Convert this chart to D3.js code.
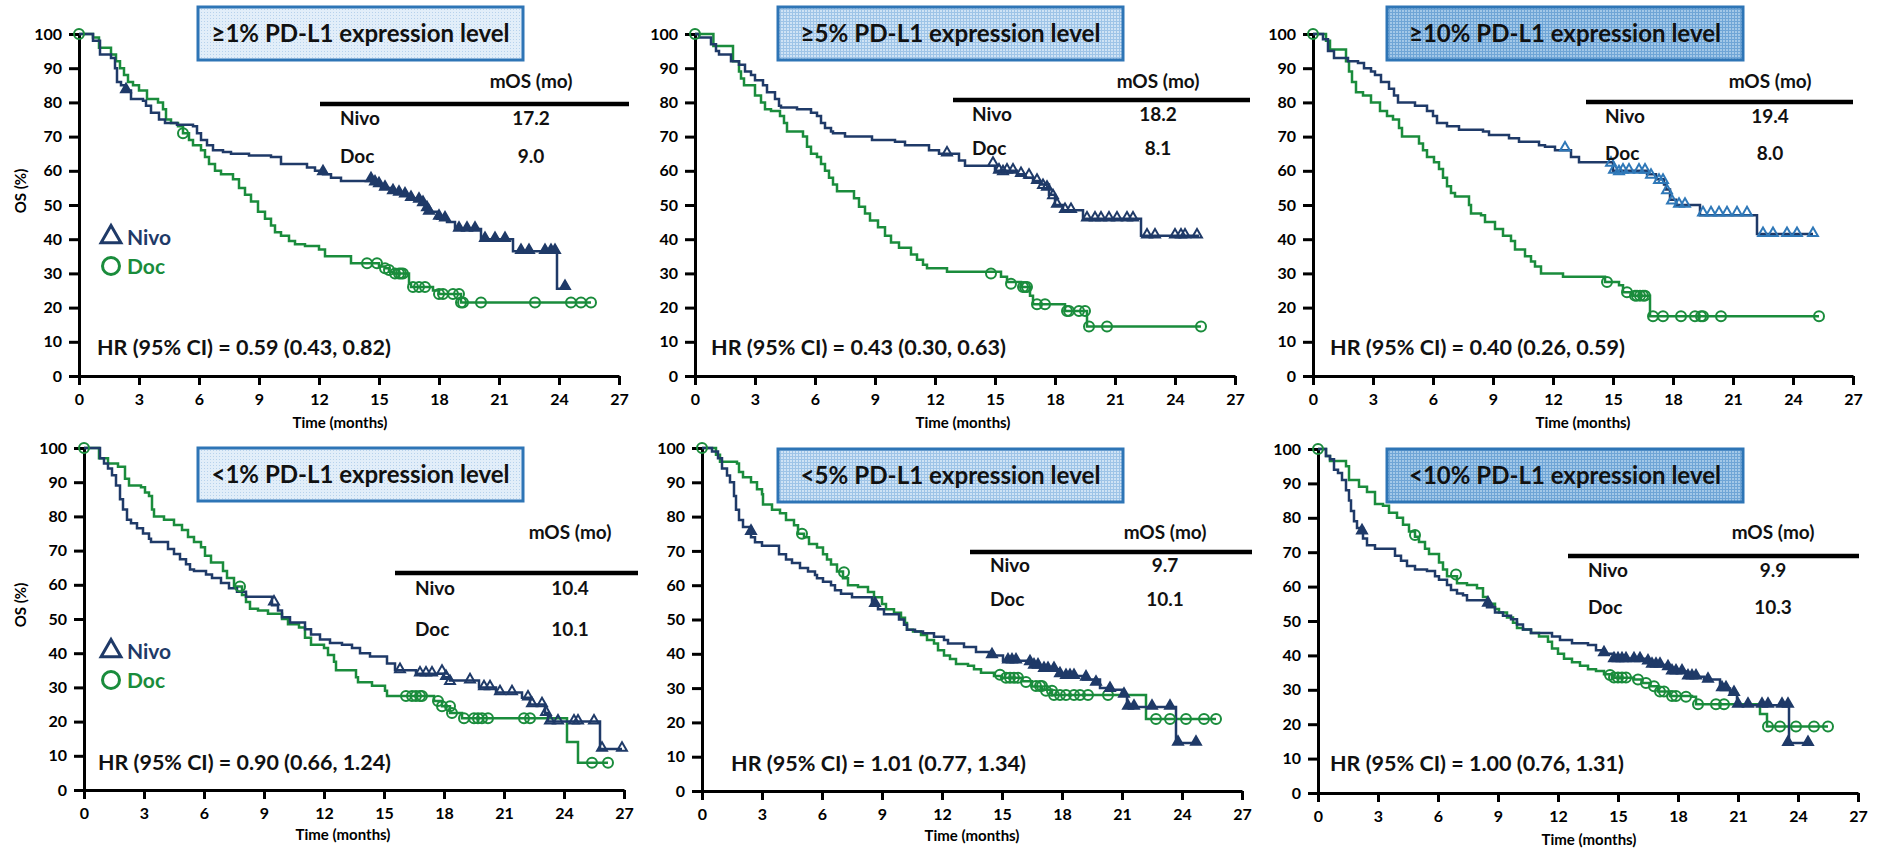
<!DOCTYPE html>
<html><head><meta charset="utf-8">
<script src="https://cdn.jsdelivr.net/npm/d3@7"></script>
<style>
body{margin:0;background:#fff}
svg{display:block}
text{font-family:Lato,"Open Sans",sans-serif;font-weight:700}
</style>
</head><body>
<svg id="chart" width="1881" height="850"></svg>
<script>
// ---------- DATA ----------
const xTicks = [0,3,6,9,12,15,18,21,24,27];
const yTicks = [0,10,20,30,40,50,60,70,80,90,100];
const panelTitles = ["≥1% PD-L1 expression level","≥5% PD-L1 expression level","≥10% PD-L1 expression level",
                     "<1% PD-L1 expression level","<5% PD-L1 expression level","<10% PD-L1 expression level"];
const hrLabels = ["HR (95% CI) = 0.59 (0.43, 0.82)","HR (95% CI) = 0.43 (0.30, 0.63)","HR (95% CI) = 0.40 (0.26, 0.59)",
                  "HR (95% CI) = 0.90 (0.66, 1.24)","HR (95% CI) = 1.01 (0.77, 1.34)","HR (95% CI) = 1.00 (0.76, 1.31)"];
const armNames = ["Nivo","Doc"];
const mosNivo = ["17.2","18.2","19.4","10.4","9.7","9.9"];
const mosDoc  = ["9.0","8.1","8.0","10.1","10.1","10.3"];

// Panel 1: >=1%
const nivo1 = [[0,100],[0.7,98],[1.05,94],[1.6,93],[1.8,90],[1.9,86],[2.1,85],[2.3,83.5],[2.6,81],[3.2,80.5],[3.35,79],[3.6,77],[4.0,75],[4.3,74],[4.9,73.5],[5.7,73],[5.9,71],[6.1,69],[6.4,67.5],[6.7,66],[7.2,65.5],[7.6,65],[8.5,64.5],[9.6,64],[10.1,62],[11.4,61],[11.8,60],[12.2,59],[12.6,58],[13.1,57],[14.7,56.5],[14.9,56],[15.1,55],[15.6,54],[15.9,53.5],[16.2,53],[16.5,52],[16.9,51.5],[17.1,50.5],[17.3,49],[17.5,48],[17.9,46],[18.4,45],[18.8,43],[20.1,40],[21.7,36.5],[23.9,25.5],[24.3,25.5]];
const nivo1Censor = [[2.35,83.5],[12.2,59.5],[14.6,57.5],[14.8,56.5],[15.0,56],[15.3,55],[15.7,54],[16.0,53.5],[16.3,53],[16.6,52],[17.0,51.5],[17.2,50.5],[17.4,49],[17.5,48],[18.0,46.5],[18.3,46],[19.0,43],[19.4,43],[19.8,43],[20.3,40],[20.8,40],[21.3,40],[22.1,36.5],[22.5,36.5],[23.3,36.5],[23.6,36.5],[23.8,36.5],[24.3,26]];
const doc1 = [[0,100],[0.7,99],[1.0,96],[1.6,94],[1.85,92],[2.05,90],[2.25,88],[2.45,86],[2.7,85],[3.0,83.5],[3.4,81],[3.95,80],[4.2,78],[4.35,75],[4.6,74],[4.95,73],[5.2,71],[5.5,69],[5.7,67.5],[6.1,66],[6.3,64],[6.5,62],[6.8,60],[7.1,59],[7.7,57.5],[8.0,55],[8.3,53],[8.6,51],[8.95,48],[9.3,46],[9.6,44],[9.8,42],[10.1,41],[10.5,39.5],[10.8,38.5],[11.3,38],[12.0,37],[12.3,35],[13.6,33],[15.0,32],[15.3,31.5],[15.5,30.5],[15.7,30],[16.5,27],[16.6,26],[17.7,25],[18.0,24],[19.1,21.5],[25.6,21.5]];
const doc1Censor = [[0,100],[5.2,71],[14.4,33],[14.9,33],[15.3,31.5],[15.5,31],[15.8,30],[16.0,30],[16.1,30],[16.2,30],[16.7,26],[17.0,26],[17.3,26],[18.0,24],[18.2,24],[18.7,24],[19.0,24],[19.1,21.5],[19.2,21.5],[20.1,21.5],[22.8,21.5],[24.6,21.5],[25.1,21.5],[25.6,21.5]];

// Panel 2: >=5%
const nivo2 = [[0,100],[0.2,99],[0.8,97],[1.05,95],[1.2,94],[1.8,92],[2.2,91],[2.5,89],[2.8,88],[3.0,86.5],[3.4,85],[3.6,83],[4.0,81],[4.2,79],[4.3,78.5],[5.1,78],[5.8,77],[6.1,76],[6.3,74],[6.5,72.5],[6.8,71.5],[6.9,71],[7.5,70],[8.85,69],[10.0,68.5],[10.5,67.5],[11.7,66],[12.2,65],[13.2,63],[13.5,61.5],[15.0,60],[16.1,59],[16.5,58],[16.9,57],[17.25,56],[17.7,53],[18.0,50],[18.4,48.5],[19.4,46],[22.3,41],[25.2,41]];
const nivo2Censor = [[12.6,65],[14.9,62],[15.2,60],[15.4,59.5],[15.6,60],[15.9,60],[16.3,59],[16.7,58.5],[17.1,57],[17.4,55.5],[17.6,55],[17.9,52.5],[18.1,50],[18.5,48.5],[18.8,48.5],[19.6,46],[20.0,46],[20.3,46],[20.7,46],[21.1,46],[21.6,46],[21.9,46],[22.6,41],[23.0,41],[24.0,41],[24.3,41],[24.5,41],[25.1,41]];
const doc2 = [[0,100],[0.92,96.5],[1.9,92],[2.2,89],[2.3,87],[2.45,85],[3.0,82],[3.3,80],[3.5,78],[3.8,77.5],[4.25,76],[4.45,74],[4.6,71.5],[5.4,70],[5.6,67],[5.8,65],[6.1,64],[6.3,62],[6.5,60],[6.7,58],[6.9,56],[7.1,54],[7.95,52],[8.2,49.5],[8.5,47.5],[8.75,45.5],[9.15,43.5],[9.5,41],[9.8,39],[10.2,37.5],[10.8,35.5],[11.1,34],[11.4,32.5],[11.6,31.5],[12.6,30.5],[15.3,29],[15.6,27.5],[16.3,26],[16.75,23.5],[16.9,21],[18.5,19],[19.6,14.5],[25.3,14.5]];
const doc2Censor = [[0,100],[14.8,30],[15.8,27],[16.4,26],[16.5,26],[16.6,26],[17.1,21],[17.5,21],[18.6,19],[18.7,19],[19.2,19],[19.5,19],[19.7,14.5],[20.6,14.5],[25.3,14.5]];

// Panel 3: >=10%
const nivo3 = [[0,100],[0.5,98.5],[0.75,95],[1.05,93],[1.75,92],[2.25,91.5],[2.55,90],[2.9,89],[3.1,88],[3.4,86],[3.8,84],[4.05,82],[4.25,80],[5.1,79],[5.7,77.5],[6.0,76],[6.2,74],[6.7,73],[7.3,72],[8.5,71.5],[8.8,70.5],[9.8,69.5],[10.3,68.5],[11.3,67.5],[11.6,67],[12.1,66],[12.9,64],[13.3,62.5],[15.0,60],[16.7,59],[17.15,57.5],[17.55,56],[17.65,54.5],[17.85,51.5],[18.15,50],[19.35,47],[22.2,41.5],[25.0,41.5]];
const nivo3Censor = [[12.6,66.5],[14.9,62],[15.05,60],[15.3,59.5],[15.5,60],[15.8,60],[16.3,60],[16.6,60],[16.9,58.5],[17.3,57],[17.5,57],[17.7,54],[17.95,51],[18.3,50],[18.6,50],[19.5,47.5],[19.9,47.5],[20.3,47.5],[20.7,47.5],[21.2,47.5],[21.7,47.5],[22.5,41.5],[23.0,41.5],[23.7,41.5],[24.2,41.5],[25.0,41.5]];
const doc3 = [[0,100],[0.65,98],[0.85,95.5],[1.65,92],[1.8,89],[1.95,86],[2.15,83],[2.5,82],[2.9,80],[3.35,77.5],[3.7,76],[4.0,75],[4.3,72.5],[4.45,70],[5.3,68],[5.5,66],[5.7,64],[6.05,62.5],[6.3,60.5],[6.5,58],[6.7,55.5],[6.9,53.5],[7.1,52.5],[7.8,50],[7.9,47.5],[8.4,47],[8.6,45],[9.1,43],[9.5,41],[9.9,39.5],[10.1,37],[10.6,35],[10.9,33.5],[11.1,32],[11.4,30],[12.5,29],[14.6,27.5],[15.3,26.5],[15.5,24.5],[16.0,23.5],[16.85,17.5],[25.3,17.5]];
const doc3Censor = [[0,100],[14.7,27.5],[15.7,24.5],[16.1,23.5],[16.2,23.5],[16.35,23.5],[16.5,23.5],[16.6,23.5],[17.0,17.5],[17.5,17.5],[18.4,17.5],[19.1,17.5],[19.4,17.5],[19.5,17.5],[20.4,17.5],[25.3,17.5]];

// Panel 4: <1%
const nivo4 = [[0,100],[0.8,97],[1.0,95.5],[1.2,94],[1.4,92],[1.6,89],[1.8,85],[1.95,82],[2.15,79],[2.35,78],[2.65,76.5],[2.95,75],[3.25,73.5],[3.35,72.5],[4.2,70.5],[4.5,69],[4.8,67.5],[5.1,66],[5.3,64.5],[5.5,64],[6.1,63],[6.4,62],[6.85,60.5],[7.25,59],[7.65,58],[8.1,56.5],[9.4,54],[9.7,52.5],[9.9,50.5],[10.3,49],[11.05,47],[11.35,45.5],[11.8,44],[12.3,43],[12.9,42.5],[13.4,41.5],[13.8,40],[14.3,39],[15.15,37],[15.55,35],[16.6,34],[18.0,33],[18.3,32],[19.75,30],[20.6,28.5],[21.9,27],[22.3,25],[23.05,22.5],[23.2,20],[25.8,12],[26.9,12]];
const nivo4Censor = [[9.5,54.8],[15.8,35],[16.8,34],[17.1,34],[17.4,34],[17.9,34.5],[18.1,33],[18.3,31.5],[19.3,32],[20.0,30],[20.3,30],[20.8,28.5],[21.4,28.5],[22.2,27],[22.4,25],[22.9,25],[23.1,22.5],[23.3,20],[23.7,20],[24.5,20],[24.7,20],[25.5,20],[25.9,12],[26.9,12]];
const doc4 = [[0,100],[0.75,97],[1.2,95.5],[1.7,94.5],[2.05,91],[2.25,89],[2.85,88.5],[3.05,87],[3.25,86],[3.4,82],[3.5,80],[4.0,79],[4.5,77.5],[4.9,76],[5.2,74],[5.5,72.5],[5.85,71],[6.05,68.5],[6.35,66.5],[6.95,64],[7.15,62],[7.5,59.5],[7.9,57],[8.1,55],[8.3,53],[8.7,52.5],[9.2,51.5],[9.9,50],[10.2,48.5],[10.75,47.5],[11.05,44.5],[11.35,42.5],[12.0,41.5],[12.2,39.5],[12.5,37.5],[12.6,35],[13.6,33],[13.7,31.5],[14.4,30.5],[15.05,29],[15.15,27.5],[17.5,26],[17.9,24.5],[18.3,22.5],[18.9,21],[24.15,14],[24.7,8],[26.2,8]];
const doc4Censor = [[0,100],[7.8,59.5],[16.1,27.5],[16.4,27.5],[16.6,27.5],[16.8,27.5],[16.9,27.5],[17.7,26],[17.9,24.5],[18.3,24.5],[18.4,22.5],[19.0,21],[19.5,21],[19.7,21],[19.9,21],[20.2,21],[22.0,21],[22.3,21],[25.4,8],[26.2,8]];

// Panel 5: <5%
const nivo5 = [[0,100],[0.5,99],[0.8,97],[1.0,94],[1.25,92],[1.4,90],[1.6,86],[1.7,82],[1.85,79],[2.05,77],[2.45,74],[2.65,72.5],[3.0,71.5],[3.85,69],[4.2,67.5],[4.5,66.5],[4.9,65],[5.3,64],[5.65,63],[5.75,62],[6.05,61],[6.45,60],[6.65,58.5],[6.95,57.5],[7.5,56.5],[8.5,54.5],[8.8,53],[9.1,51.5],[9.85,50],[10.1,48.5],[10.25,47],[10.65,46.5],[11.05,46],[11.6,45],[12.1,44],[12.3,43],[13.1,42],[13.7,40.5],[14.35,39.5],[15.05,38],[16.3,37.5],[16.6,36.5],[17.05,35.5],[17.85,34],[18.1,33.5],[19.05,32.5],[19.9,30],[20.4,29.5],[21.0,28],[21.25,24.5],[23.7,14],[24.7,14]];
const nivo5Censor = [[2.45,75.5],[8.65,54.5],[14.5,39.5],[15.3,38],[15.5,38],[15.7,38],[16.4,37.5],[16.6,36.5],[16.8,36.5],[17.1,35.5],[17.3,35.5],[17.6,35.5],[17.9,34],[18.2,33.5],[18.4,33.5],[18.6,33.5],[19.2,33],[19.7,31.5],[20.4,29.7],[21.1,28],[21.3,24.5],[21.6,24.5],[22.5,24.5],[23.4,24.5],[23.8,14],[24.7,14]];
const doc5 = [[0,100],[0.7,98],[0.9,96],[1.75,95.5],[1.85,93],[2.05,91.5],[2.45,90],[2.75,88],[3.0,86.5],[3.05,83.5],[3.5,82],[3.9,81],[4.2,79],[4.6,77.5],[4.8,75],[5.1,74],[5.35,72],[5.75,71],[6.05,69],[6.25,67.5],[6.45,66],[6.75,64],[7.05,62],[7.3,60],[7.8,59.5],[8.3,58],[8.6,56.5],[9.0,54.5],[9.2,53],[9.6,52],[9.95,50.5],[10.15,49],[10.25,47],[10.55,46.5],[10.95,45.5],[11.25,44],[11.6,43],[11.8,41],[12.1,39.5],[12.4,38.5],[12.7,37],[13.3,36.5],[13.6,35.5],[13.95,34.5],[14.6,33.5],[15.0,33],[16.0,32],[16.5,30.5],[17.0,29.5],[17.5,28],[22.2,21],[25.7,21]];
const doc5Censor = [[0,100],[5.0,75],[7.1,63.8],[14.9,33.9],[15.2,33],[15.4,33],[15.6,33],[15.8,33],[16.2,31.8],[16.7,30.6],[16.9,30.6],[17.0,30.6],[17.2,29.2],[17.5,29.2],[17.6,28],[17.9,28],[18.2,28],[18.6,28],[18.9,28],[19.3,28],[20.3,28],[22.7,21],[23.4,21],[24.2,21],[25.1,21],[25.7,21]];

// Panel 6: <10%
const nivo6 = [[0,100],[0.4,98],[0.6,97],[0.8,94],[1.0,93],[1.2,91],[1.4,88],[1.55,85],[1.65,82],[1.8,79],[1.95,77],[2.25,74],[2.45,72],[2.85,71],[3.85,69],[4.15,67.5],[4.45,66],[4.85,65],[5.45,64.5],[5.85,63],[6.05,62],[6.45,60.5],[6.65,59],[6.95,58],[7.25,57.5],[7.45,56],[8.45,54],[8.85,52.5],[9.25,51.5],[9.65,50.5],[9.95,49],[10.25,47.5],[10.65,46.5],[11.7,45.5],[12.1,44.5],[12.7,43.5],[13.5,43],[13.9,41.5],[14.3,40.5],[14.8,39],[16.4,38],[16.65,37.2],[17.4,36.5],[17.6,35.3],[18.4,33.8],[19.3,33],[20.1,30.4],[20.6,29],[20.95,25.5],[23.55,14.5],[24.5,14.5]];
const nivo6Censor = [[2.2,76],[8.5,55],[14.3,40.6],[14.8,38.8],[15.0,38.8],[15.2,38.8],[15.4,38.8],[15.8,38.8],[16.1,38.8],[16.5,38.2],[16.7,37.2],[16.9,37.2],[17.1,37.2],[17.5,36.5],[17.7,35.3],[17.9,35.3],[18.2,35.3],[18.5,33.8],[18.7,33.8],[18.9,33.8],[19.5,32.9],[20.2,30.4],[20.4,30.4],[20.8,29],[21.0,25.6],[21.5,25.6],[22.2,25.6],[22.5,25.6],[23.2,25.6],[23.5,25.6],[23.5,14.5],[24.5,14.5]];
const doc6 = [[0,100],[0.4,98],[0.6,96.5],[1.4,95],[1.55,91],[2.05,89],[2.45,87.5],[2.85,84],[3.25,83.5],[3.55,81.5],[3.95,80],[4.25,78],[4.55,76],[4.85,74.5],[5.05,73],[5.35,71],[5.55,69.5],[6.05,67],[6.25,65],[6.45,63],[6.95,61],[7.45,60.5],[7.95,59.5],[8.25,57],[8.45,55],[8.85,53.5],[9.05,52.5],[9.45,51],[9.75,49.5],[9.95,48],[10.25,47.5],[10.65,46.5],[11.05,45.5],[11.5,44],[11.7,42],[12.0,40.5],[12.3,39],[12.7,38],[13.1,37],[13.5,36],[13.9,35.5],[14.3,34.5],[14.7,33.5],[15.8,33],[16.2,32],[16.6,31],[17.0,29.5],[17.6,28.2],[18.7,28],[18.9,25.8],[22.1,23],[22.45,19.3],[25.5,19.3]];
const doc6Censor = [[0,100],[4.85,75],[6.9,63.5],[14.6,34.3],[14.8,33.6],[15.0,33.6],[15.2,33.6],[15.4,33.6],[16.0,33],[16.4,32],[16.8,31],[17.1,29.5],[17.3,29.5],[17.7,28.2],[17.9,28.2],[18.4,28],[19.0,25.8],[19.9,25.8],[20.3,25.8],[22.5,19.3],[23.1,19.3],[23.9,19.3],[24.8,19.3],[25.5,19.3]];

const nivoSeries = [nivo1,nivo2,nivo3,nivo4,nivo5,nivo6];
const nivoCensors = [nivo1Censor,nivo2Censor,nivo3Censor,nivo4Censor,nivo5Censor,nivo6Censor];
const docSeries = [doc1,doc2,doc3,doc4,doc5,doc6];
const docCensors = [doc1Censor,doc2Censor,doc3Censor,doc4Censor,doc5Censor,doc6Censor];

// ---------- LAYOUT / STYLE ----------
const NAVY = "#1F3A68", GREEN = "#1A8C3C", BOXLINE = "#2E75B6";
const layout = [
  {x0:79,  x1:619,  yb:376, yt:34,  box:[198,7,325,53],   titleW:298, hrX:97,   hrY:355, hrW:294,
   tab:{hy:88, ry:104, rx0:320, rx1:629, lx:340, vx:531, ny:125, dy:163}, xl:[340,428], yl:true, pat:0, triFill:true, triCol:NAVY},
  {x0:695, x1:1235, yb:376, yt:34,  box:[778,7,345,53],   titleW:300, hrX:711,  hrY:355, hrW:295,
   tab:{hy:88, ry:100, rx0:953, rx1:1250, lx:972, vx:1158, ny:121, dy:155}, xl:[963,428], yl:false, pat:1, triFill:false, triCol:NAVY},
  {x0:1313,x1:1853, yb:376, yt:34,  box:[1387,7,356,53],  titleW:312, hrX:1330, hrY:355, hrW:295,
   tab:{hy:88, ry:102, rx0:1586, rx1:1853, lx:1605, vx:1770, ny:123, dy:160}, xl:[1583,428], yl:false, pat:2, triFill:false, triCol:"#2F78B8"},
  {x0:84,  x1:624,  yb:790, yt:448, box:[198,448,325,53], titleW:298, hrX:98,   hrY:770, hrW:293,
   tab:{hy:539, ry:573, rx0:395, rx1:638, lx:415, vx:570, ny:595, dy:636}, xl:[343,840], yl:true, pat:0, triFill:false, triCol:NAVY},
  {x0:702, x1:1242, yb:791, yt:448, box:[778,449,345,53], titleW:300, hrX:731,  hrY:771, hrW:295,
   tab:{hy:539, ry:552, rx0:970, rx1:1252, lx:990, vx:1165, ny:572, dy:606}, xl:[972,841], yl:false, pat:1, triFill:true, triCol:NAVY},
  {x0:1318,x1:1858, yb:793, yt:449, box:[1387,449,356,53],titleW:312, hrX:1330, hrY:771, hrW:294,
   tab:{hy:539, ry:556, rx0:1568, rx1:1859, lx:1588, vx:1773, ny:577, dy:614}, xl:[1589,845], yl:false, pat:2, triFill:true, triCol:NAVY}
];

const svg = d3.select("#chart");
const defs = svg.append("defs");
const p0 = defs.append("pattern").attr("id","pat0").attr("width",3).attr("height",3).attr("patternUnits","userSpaceOnUse");
p0.append("rect").attr("width",3).attr("height",3).attr("fill","#E2EEF9");
p0.append("rect").attr("width",1).attr("height",1).attr("fill","#B7D2EC");
const p1 = defs.append("pattern").attr("id","pat1").attr("width",3).attr("height",3).attr("patternUnits","userSpaceOnUse");
p1.append("rect").attr("width",3).attr("height",3).attr("fill","#CFE3F5");
p1.append("rect").attr("width",3).attr("height",1).attr("fill","#9EC4E7");
p1.append("rect").attr("width",1).attr("height",3).attr("fill","#9EC4E7");
const p2 = defs.append("pattern").attr("id","pat2").attr("width",3).attr("height",3).attr("patternUnits","userSpaceOnUse");
p2.append("rect").attr("width",3).attr("height",3).attr("fill","#A3C8E8");
p2.append("rect").attr("width",3).attr("height",1).attr("fill","#6FA5D6");
p2.append("rect").attr("width",1).attr("height",3).attr("fill","#6FA5D6");

const triSym = d3.symbol().type(d3.symbolTriangle).size(42);
const legTri = d3.symbol().type(d3.symbolTriangle).size(170);

layout.forEach((L, i) => {
  const g = svg.append("g");
  const x = d3.scaleLinear().domain([0,27]).range([L.x0, L.x1]);
  const y = d3.scaleLinear().domain([0,100]).range([L.yb, L.yt]);

  g.append("rect").attr("x",L.box[0]).attr("y",L.box[1]).attr("width",L.box[2]).attr("height",L.box[3])
    .attr("fill",`url(#pat${L.pat})`).attr("stroke",BOXLINE).attr("stroke-width",3);
  g.append("text").attr("x",L.box[0]+L.box[2]/2).attr("y",L.box[1]+35).attr("text-anchor","middle")
    .attr("font-size",24).attr("fill","#111").attr("textLength",L.titleW).attr("lengthAdjust","spacingAndGlyphs")
    .text(panelTitles[i]);

  const xa = g.append("g").attr("transform",`translate(0,${L.yb})`)
    .call(d3.axisBottom(x).tickValues(xTicks).tickSize(9).tickSizeOuter(0).tickPadding(9));
  const ya = g.append("g").attr("transform",`translate(${L.x0},0)`)
    .call(d3.axisLeft(y).tickValues(yTicks).tickSize(10).tickSizeOuter(0).tickPadding(7));
  [xa, ya].forEach(a => {
    a.select(".domain").attr("stroke","#000").attr("stroke-width",3);
    a.selectAll(".tick line").attr("stroke","#000").attr("stroke-width",3);
    a.selectAll(".tick text").attr("font-size",16).attr("font-weight",700).attr("fill","#000")
      .attr("font-family","Lato, sans-serif");
  });

  g.append("text").attr("x",L.xl[0]).attr("y",L.xl[1]).attr("text-anchor","middle")
    .attr("font-size",15).attr("fill","#000").text("Time (months)");
  if (L.yl) {
    const cy = (L.yb + L.yt)/2 - 14;
    g.append("text").attr("transform",`translate(26,${cy}) rotate(-90)`).attr("text-anchor","middle")
      .attr("font-size",15).attr("fill","#000").text("OS (%)");
    const ly = L.yt + 203;
    g.append("path").attr("d",legTri).attr("transform",`translate(111,${ly})`)
      .attr("fill","none").attr("stroke",NAVY).attr("stroke-width",3);
    g.append("text").attr("x",127).attr("y",ly+8).attr("font-size",21).attr("fill",NAVY).text(armNames[0]);
    g.append("circle").attr("cx",111).attr("cy",ly+29).attr("r",8.5)
      .attr("fill","none").attr("stroke",GREEN).attr("stroke-width",3);
    g.append("text").attr("x",127).attr("y",ly+37).attr("font-size",21).attr("fill",GREEN).text(armNames[1]);
  }

  const line = d3.line().x(d => x(d[0])).y(d => y(d[1])).curve(d3.curveStepAfter);
  g.append("path").datum(docSeries[i]).attr("d",line).attr("fill","none").attr("stroke",GREEN).attr("stroke-width",2.5);
  g.append("path").datum(nivoSeries[i]).attr("d",line).attr("fill","none").attr("stroke",NAVY).attr("stroke-width",2.5);

  g.selectAll(null).data(docCensors[i]).join("circle")
    .attr("cx",d => x(d[0])).attr("cy",d => y(d[1])).attr("r",5)
    .attr("fill","none").attr("stroke",GREEN).attr("stroke-width",2);
  g.selectAll(null).data(nivoCensors[i]).join("path")
    .attr("d",triSym).attr("transform",d => `translate(${x(d[0])},${y(d[1])-1})`)
    .attr("fill",L.triFill ? L.triCol : "none").attr("stroke",L.triCol).attr("stroke-width",2);

  g.append("text").attr("x",L.hrX).attr("y",L.hrY).attr("font-size",21).attr("fill","#111")
    .attr("textLength",L.hrW).attr("lengthAdjust","spacingAndGlyphs").text(hrLabels[i]);

  const T = L.tab;
  g.append("text").attr("x",T.vx).attr("y",T.hy).attr("text-anchor","middle").attr("font-size",19).attr("fill","#111").text("mOS (mo)");
  g.append("line").attr("x1",T.rx0).attr("x2",T.rx1).attr("y1",T.ry).attr("y2",T.ry).attr("stroke","#000").attr("stroke-width",4.5);
  g.append("text").attr("x",T.lx).attr("y",T.ny).attr("font-size",19).attr("fill","#111").text(armNames[0]);
  g.append("text").attr("x",T.vx).attr("y",T.ny).attr("text-anchor","middle").attr("font-size",19).attr("fill","#111").text(mosNivo[i]);
  g.append("text").attr("x",T.lx).attr("y",T.dy).attr("font-size",19).attr("fill","#111").text(armNames[1]);
  g.append("text").attr("x",T.vx).attr("y",T.dy).attr("text-anchor","middle").attr("font-size",19).attr("fill","#111").text(mosDoc[i]);
});
</script>
</body></html>
